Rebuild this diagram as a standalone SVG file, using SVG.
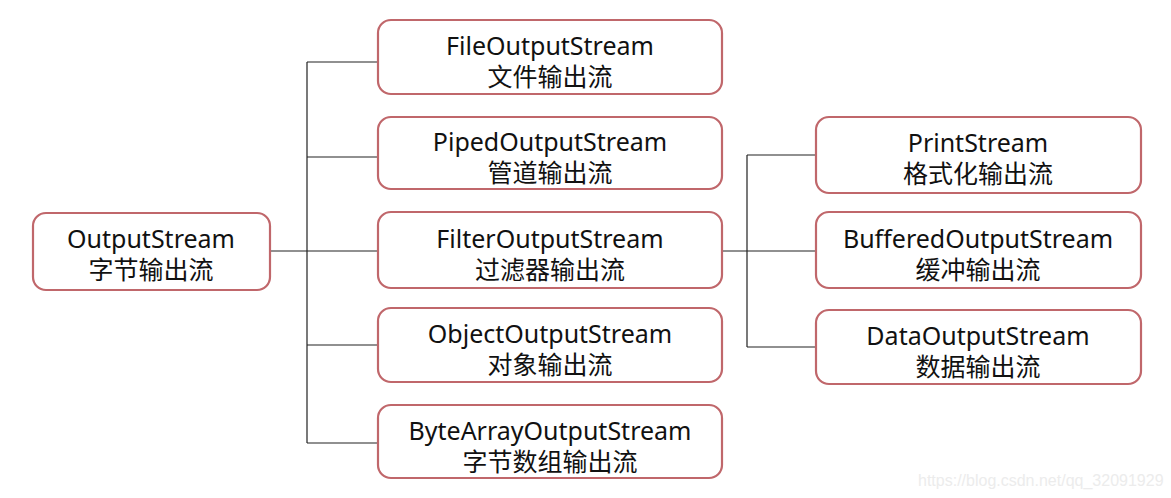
<svg xmlns="http://www.w3.org/2000/svg" width="1171" height="498" viewBox="0 0 1171 498">
<style>
.box{fill:#fff;stroke:#c0676b;stroke-width:2.2}
.t{font-family:"Noto Sans","Noto Sans CJK SC",sans-serif;font-size:25px;fill:#111;text-anchor:middle}
.c{fill:none;stroke:#222;stroke-width:1.2}
.wm{font-family:"Liberation Sans",sans-serif;font-size:16px;fill:#ececec}
</style>
<rect width="1171" height="498" fill="#fff"/>
<g id="connectors">
<path class="c" d="M270 251H378M307 62V443M307 62H378M307 157H378M307 345H378M307 443H378"/>
<path class="c" d="M722 251H816M747 155V347M747 155H816M747 347H816"/>
</g>
<g id="n-outputstream"><rect class="box" x="33" y="213" width="237" height="77" rx="13"/><text class="t" x="151" y="248">OutputStream</text><text class="t" x="151" y="279">字节输出流</text></g>
<g id="n-file"><rect class="box" x="378" y="20" width="344" height="74" rx="13"/><text class="t" x="550" y="55">FileOutputStream</text><text class="t" x="550" y="86">文件输出流</text></g>
<g id="n-piped"><rect class="box" x="378" y="117" width="344" height="72" rx="13"/><text class="t" x="550" y="151">PipedOutputStream</text><text class="t" x="550" y="182">管道输出流</text></g>
<g id="n-filter"><rect class="box" x="378" y="212" width="344" height="76" rx="13"/><text class="t" x="550" y="248">FilterOutputStream</text><text class="t" x="550" y="279">过滤器输出流</text></g>
<g id="n-object"><rect class="box" x="378" y="308" width="344" height="74" rx="13"/><text class="t" x="550" y="343">ObjectOutputStream</text><text class="t" x="550" y="374">对象输出流</text></g>
<g id="n-bytearray"><rect class="box" x="378" y="405" width="344" height="73" rx="13"/><text class="t" x="550" y="440">ByteArrayOutputStream</text><text class="t" x="550" y="471">字节数组输出流</text></g>
<g id="n-print"><rect class="box" x="816" y="117" width="325" height="76" rx="13"/><text class="t" x="978" y="152">PrintStream</text><text class="t" x="978" y="183">格式化输出流</text></g>
<g id="n-buffered"><rect class="box" x="816" y="212" width="325" height="76" rx="13"/><text class="t" x="978" y="248">BufferedOutputStream</text><text class="t" x="978" y="279">缓冲输出流</text></g>
<g id="n-data"><rect class="box" x="816" y="310" width="325" height="74" rx="13"/><text class="t" x="978" y="345">DataOutputStream</text><text class="t" x="978" y="376">数据输出流</text></g>
<text class="wm" x="918" y="486">https://blog.csdn.net/qq_32091929</text>
</svg>
